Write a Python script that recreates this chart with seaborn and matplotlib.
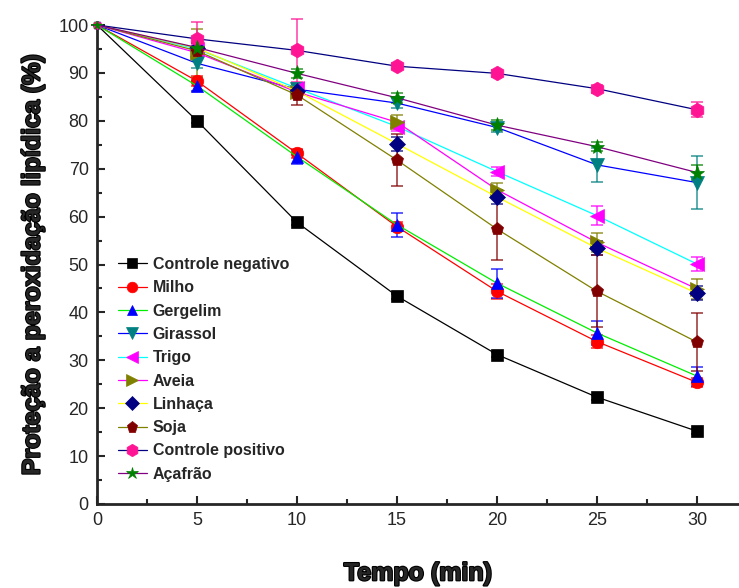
import numpy as np
import pandas as pd
import matplotlib
matplotlib.use("Agg")
import matplotlib.pyplot as plt
import matplotlib.patheffects as pe
from matplotlib.ticker import MultipleLocator
import seaborn as sns

# tempo (min)
tempo = [0, 5, 10, 15, 20, 25, 30]

# proteção (%) por amostra
controle_neg = [100, 80.0, 58.8, 43.4, 31.2, 22.3, 15.2]
milho = [100, 88.3, 73.2, 57.9, 44.4, 33.9, 25.4]
gergelim = [100, 87.3, 72.5, 58.3, 46.1, 35.7, 26.7]
girassol = [100, 92.0, 86.6, 83.7, 78.6, 70.8, 67.1]
trigo = [100, 95.0, 86.8, 78.8, 69.4, 60.2, 50.1]
aveia = [100, 94.2, 86.0, 79.7, 65.6, 54.6, 44.9]
linhaca = [100, 95.2, 86.2, 75.2, 64.1, 53.4, 44.0]
soja = [100, 94.6, 85.4, 71.8, 57.4, 44.4, 33.8]
controle_pos = [100, 97.1, 94.7, 91.4, 89.9, 86.7, 82.3]
acafrao = [100, 95.3, 89.9, 84.8, 79.1, 74.6, 69.2]

# desvio padrão
sd_controle_neg = [0, 0.5, 0.5, 0.5, 0.5, 0.5, 0.5]
sd_milho = [0, 1.0, 1.0, 1.0, 1.5, 1.3, 1.0]
sd_gergelim = [0, 1.0, 1.5, 2.5, 3.0, 2.5, 2.0]
sd_girassol = [0, 1.0, 1.0, 1.0, 1.0, 3.5, 5.6]
sd_trigo = [0, 1.0, 1.0, 1.0, 1.0, 2.0, 1.5]
sd_aveia = [0, 5.0, 1.0, 1.5, 1.5, 2.0, 2.0]
sd_linhaca = [0, 1.0, 1.0, 1.5, 1.5, 1.5, 1.5]
sd_soja = [0, 1.0, 2.0, 5.5, 6.5, 7.5, 6.0]
sd_controle_pos = [0, 3.5, 6.5, 0.6, 0.8, 0.8, 1.6]
sd_acafrao = [0, 1.0, 1.0, 1.0, 1.0, 1.0, 1.5]

nomes = ["Controle negativo", "Milho", "Gergelim", "Girassol", "Trigo",
         "Aveia", "Linhaça", "Soja", "Controle positivo", "Açafrão"]
valores = [controle_neg, milho, gergelim, girassol, trigo,
           aveia, linhaca, soja, controle_pos, acafrao]
desvios = [sd_controle_neg, sd_milho, sd_gergelim, sd_girassol, sd_trigo,
           sd_aveia, sd_linhaca, sd_soja, sd_controle_pos, sd_acafrao]

cor_linha = ["black", "red", "#00ee00", "blue", "cyan",
             "magenta", "yellow", "olive", "navy", "purple"]
cor_marcador = ["black", "red", "blue", "teal", "magenta",
                "olive", "navy", "maroon", "deeppink", "green"]
marcadores = ["s", "o", "^", "v", "<", ">", "D", "p", "h", "*"]
tamanhos = [8.5, 9, 9, 9.5, 9.5, 9.5, 8, 9.5, 10.5, 11]

sns.set_style("ticks")
plt.rcParams["font.family"] = ["Liberation Sans", "DejaVu Sans"]

fig = plt.figure(figsize=(7.39, 5.88), dpi=100)
ax = fig.add_axes([97 / 739, 1 - 504 / 588, 1 - 97 / 739, (504 - 25) / 588])

for nome, y, sd, cl, cm, m, ms in zip(nomes, valores, desvios, cor_linha,
                                      cor_marcador, marcadores, tamanhos):
    df = pd.DataFrame({"tempo": tempo, "valor": y})
    ax.errorbar(tempo, y, yerr=sd, fmt="none", ecolor=cm, elinewidth=1.2,
                capsize=4, capthick=1.2, alpha=0.75, clip_on=False, zorder=2)
    sns.lineplot(data=df, x="tempo", y="valor", ax=ax, color=cl, lw=0.9,
                 marker=m, markersize=ms, markerfacecolor=cm,
                 markeredgecolor=cm, markeredgewidth=0.5, label=nome,
                 markevery=list(range(1, len(tempo))),
                 clip_on=False, zorder=3)
    # ponto inicial (t = 0) com marcador pequeno
    ax.plot(df["tempo"][:1], df["valor"][:1], marker=m, ms=ms * 0.5,
            color=cm, ls="none", clip_on=False, zorder=3)

ax.set_xlim(0, 32.1)
ax.set_ylim(0, 100)
ax.xaxis.set_major_locator(MultipleLocator(5))
ax.xaxis.set_minor_locator(MultipleLocator(2.5))
ax.yaxis.set_major_locator(MultipleLocator(10))
ax.yaxis.set_minor_locator(MultipleLocator(5))
ax.tick_params(which="major", direction="in", length=6, width=1.5,
               labelsize=13, pad=6)
ax.tick_params(which="minor", direction="in", length=3.5, width=1.5)
ax.spines["top"].set_visible(False)
ax.spines["right"].set_visible(False)
ax.spines["left"].set_linewidth(2)
ax.spines["bottom"].set_linewidth(2)

grosso = [pe.withStroke(linewidth=1.6, foreground="black")]
ax.set_xlabel("Tempo (min)", fontsize=18, fontweight="bold", labelpad=23,
              path_effects=grosso)
ax.set_ylabel("Proteção a peroxidação lipídica (%)", fontsize=18,
              fontweight="bold", labelpad=10, path_effects=grosso)

leg = ax.legend(loc="upper left", bbox_to_anchor=(0.022, 0.529),
                frameon=False, fontsize=11.5, labelspacing=0.52,
                handlelength=1.85, handletextpad=0.35, borderaxespad=0,
                markerscale=0.85)
for t in leg.get_texts():
    t.set_fontweight("bold")

fig.savefig("out.png", dpi=100)
